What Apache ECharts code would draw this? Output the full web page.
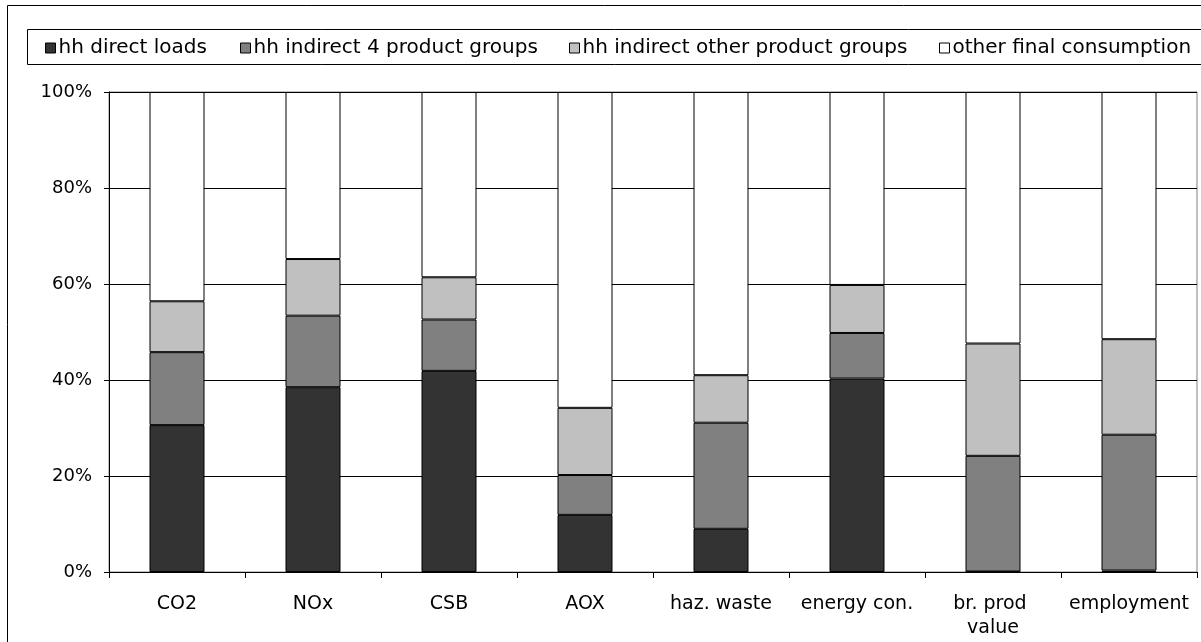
<!DOCTYPE html>
<html>
<head>
<meta charset="utf-8">
<script src="https://cdn.jsdelivr.net/npm/echarts@6/dist/echarts.min.js"></script>
<style>
  html, body { margin: 0; padding: 0; background: #fff; }
  #chart { width: 1201px; height: 642px; }
</style>
</head>
<body>
<div id="chart"></div>
<script>
// Share of each environmental / economic indicator (percent of total)
const categories = ['CO2', 'NOx', 'CSB', 'AOX', 'haz. waste', 'energy con.', 'br. prod value', 'employment'];
const seriesNames = ['hh direct loads', 'hh indirect 4 product groups', 'hh indirect other product groups', 'other final consumption'];
const hhDirect      = [30.6, 38.5, 41.9, 11.9,  9.0, 40.3,  0.1,  0.3];
const hhIndirect4   = [15.2, 14.9, 10.7,  8.3, 22.1,  9.5, 24.1, 28.3];
const hhIndirectOth = [10.6, 11.8,  8.8, 14.0,  9.9, 10.0, 23.4, 19.9];
const otherFinal    = [43.6, 34.8, 38.6, 65.8, 59.0, 40.2, 52.4, 51.5];
const yTicks = [0, 20, 40, 60, 80, 100];

const FONT = 'DejaVu Sans';
const fills = ['#333333', '#808080', '#c0c0c0', '#ffffff'];
const values = [hhDirect, hhIndirect4, hhIndirectOth, otherFinal];
const legendLeft = [45, 240, 569, 939];

const chart = echarts.init(document.getElementById('chart'), null, { renderer: 'canvas' });

const option = {
  animation: false,
  backgroundColor: '#ffffff',
  textStyle: { fontFamily: FONT, color: '#000' },
  graphic: [
    { type: 'rect', shape: { x: 7.5, y: 5.5, width: 1220, height: 660 },
      style: { fill: null, stroke: '#000', lineWidth: 1 }, silent: true, z: -1 },
    { type: 'rect', shape: { x: 27.5, y: 29.5, width: 1200, height: 35 },
      style: { fill: '#fff', stroke: '#000', lineWidth: 1 }, silent: true, z: 0 }
  ],
  legend: seriesNames.map((name, i) => ({
    data: [name],
    left: legendLeft[i],
    top: 38,
    padding: 0,
    itemWidth: 10,
    itemHeight: 10,
    icon: 'rect',
    selectedMode: false,
    z: 10,
    itemStyle: { borderColor: '#000', borderWidth: 1 },
    textStyle: { fontFamily: FONT, fontSize: 20, color: '#000', lineHeight: 20, padding: [0, 0, 0, -2] }
  })),
  grid: {
    left: 109, right: 4, top: 92, bottom: 70,
    show: true, borderColor: '#808080', borderWidth: 1,
    containLabel: false
  },
  xAxis: {
    type: 'category',
    data: categories,
    axisLine: { lineStyle: { color: '#000', width: 1 } },
    axisTick: { show: true, length: 6, interval: 0, lineStyle: { color: '#000' } },
    axisLabel: {
      interval: 0, margin: 20, fontFamily: FONT, fontSize: 19, color: '#000',
      lineHeight: 24, width: 126, overflow: 'break'
    },
    splitLine: { show: false }
  },
  yAxis: {
    type: 'value',
    min: yTicks[0],
    max: yTicks[yTicks.length - 1],
    interval: yTicks[1] - yTicks[0],
    axisLine: { show: true, lineStyle: { color: '#000', width: 1 } },
    axisTick: { show: true, length: 5, lineStyle: { color: '#000' } },
    axisLabel: { formatter: '{value}%', margin: 17, fontFamily: FONT, fontSize: 18, color: '#000' },
    splitLine: { show: true, lineStyle: { color: '#000', width: 1 } }
  },
  series: seriesNames.map((name, i) => ({
    name: name,
    type: 'bar',
    stack: 'total',
    barWidth: 55,
    data: values[i],
    itemStyle: { color: fills[i], borderColor: '#000', borderWidth: 1 },
    emphasis: { disabled: true }
  }))
};

chart.setOption(option);
</script>
</body>
</html>
